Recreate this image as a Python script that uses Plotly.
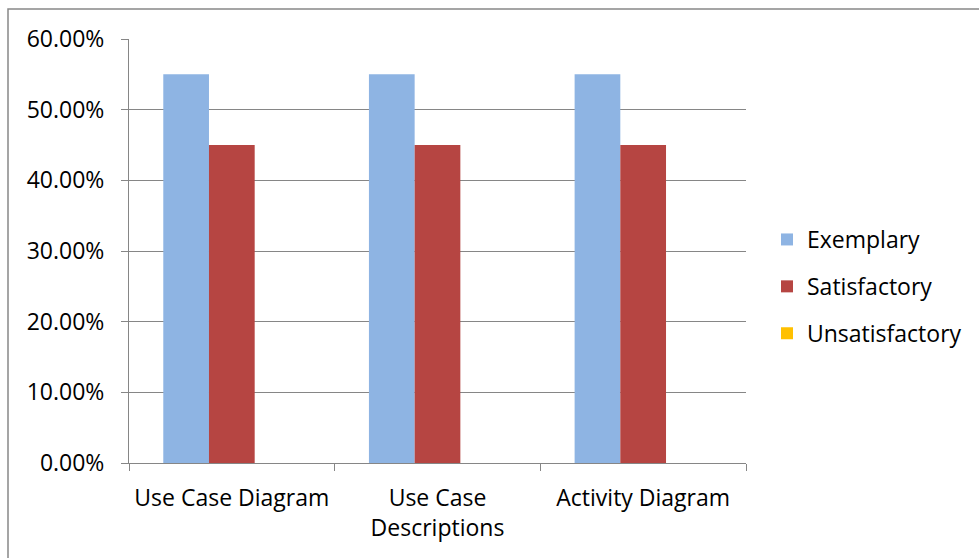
import plotly.graph_objects as go

categories = ["Use Case Diagram", "Use Case<br>Descriptions", "Activity Diagram"]
series_names = ["Exemplary", "Satisfactory", "Unsatisfactory"]
exemplary = [0.55, 0.55, 0.55]
satisfactory = [0.45, 0.45, 0.45]
unsatisfactory = [0.0, 0.0, 0.0]
y_ticks = [0.0, 0.1, 0.2, 0.3, 0.4, 0.5, 0.6]
y_tick_labels = ["0.00%", "10.00%", "20.00%", "30.00%", "40.00%", "50.00%", "60.00%"]

colors = ["#8EB4E3", "#B64542", "#FFC000"]
values = [exemplary, satisfactory, unsatisfactory]

FONT = "Open Sans"
FS = 23
GRID = "#868686"

fig = go.Figure()
for i, (name, vals, col) in enumerate(zip(series_names, values, colors)):
    fig.add_trace(go.Bar(
        x=categories, y=vals, name=name, marker_color=col,
        marker_line_width=0, legendgroup=f"g{i}",
    ))

W, H = 979, 558
L, R, T, B = 129, 233, 39, 95
pw, ph = W - L - R, H - T - B

fig.update_layout(
    width=W, height=H,
    margin=dict(l=L, r=R, t=T, b=B),
    paper_bgcolor="white", plot_bgcolor="white",
    barmode="group", bargap=1 / 3, bargroupgap=0,
    font=dict(family=FONT, size=FS, color="#000000"),
    showlegend=True,
    legend=dict(
        x=(767 - L) / pw, y=(463 - 218) / ph, xanchor="left", yanchor="top",
        font=dict(family=FONT, size=FS), tracegroupgap=14,
        itemwidth=30, bgcolor="rgba(0,0,0,0)",
    ),
    xaxis=dict(
        showline=True, linecolor=GRID, linewidth=1,
        ticks="outside", ticklen=7, tickcolor=GRID, tickson="boundaries",
        ticklabelstandoff=14,
        showgrid=False, fixedrange=True,
    ),
    yaxis=dict(
        range=[0, 0.6], tickvals=y_ticks, ticktext=y_tick_labels,
        showline=True, linecolor=GRID, linewidth=1,
        ticks="outside", ticklen=7, tickcolor=GRID,
        ticklabelstandoff=12,
        showgrid=True, gridcolor=GRID, gridwidth=1,
        zeroline=False, fixedrange=True,
    ),
    shapes=[dict(
        type="rect", xref="paper", yref="paper",
        x0=(8 - L) / pw, x1=(995 - L) / pw,
        y0=(463 - 575) / ph, y1=(463 - 9) / ph,
        line=dict(color="#888888", width=1.5), fillcolor="rgba(0,0,0,0)",
        layer="below",
    )],
)

fig.write_html("out.html")
